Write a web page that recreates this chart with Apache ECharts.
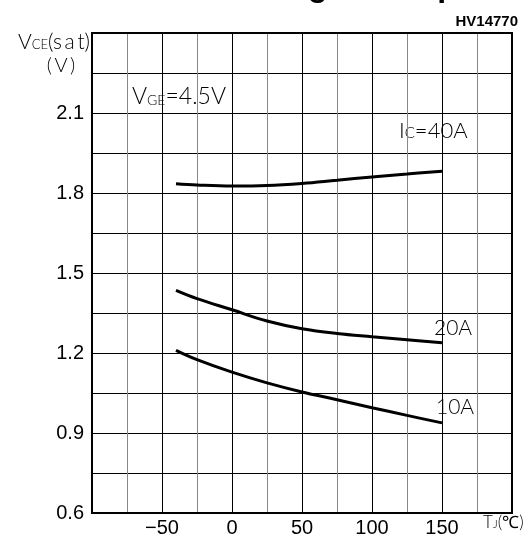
<!DOCTYPE html>
<html>
<head>
<meta charset="utf-8">
<script src="https://cdn.jsdelivr.net/npm/echarts@6/dist/echarts.min.js"></script>
<style>
html, body { margin: 0; padding: 0; background: #fff; }
#chart { width: 531px; height: 539px; }
</style>
</head>
<body>
<div id="chart"></div>
<script>
// junction temperature (°C)
const temps = [-40, -25, 0, 25, 50, 75, 100, 125, 150];
// VCE(sat) for each collector current
const ic40 = [1.835, 1.830, 1.826, 1.828, 1.836, 1.848, 1.860, 1.871, 1.882];
const ic20 = [1.435, 1.404, 1.362, 1.320, 1.291, 1.273, 1.261, 1.250, 1.238];
const ic10 = [1.210, 1.175, 1.128, 1.088, 1.054, 1.025, 0.995, 0.966, 0.938];

const xLabels = [-50, 0, 50, 100, 150];
const yLabels = [0.6, 0.9, 1.2, 1.5, 1.8, 2.1];

const chart = echarts.init(document.getElementById("chart"));

const FONT = "Liberation Sans";
const THIN = "Lato";

function pairs (ys) {
	return temps.map((t, i) => [t, ys[i]]);
}

function curve (name, ys) {
	return {
		name: name,
		type: "line",
		data: pairs(ys),
		smooth: 0.4,
		showSymbol: false,
		lineStyle: { color: "#000", width: 3 },
		z: 5
	};
}

function thin (size, sub) {
	const s = { fontFamily: THIN, fontWeight: 300, fontSize: size, fill: "#000" };
	if (sub) {
		s.verticalAlign = "bottom";
		s.padding = [0, 0, 1, 0];
	}
	return s;
}

option = {
	animation: false,
	backgroundColor: "#fff",
	grid: {
		left: 92,
		right: 19,
		top: 33,
		bottom: 26,
		show: true,
		borderColor: "#000",
		borderWidth: 2,
		z: 3
	},
	xAxis: {
		type: "value",
		min: -100,
		max: 200,
		interval: 25,
		axisLine: { show: false },
		axisTick: { show: false },
		axisLabel: {
			margin: 5,
			fontFamily: FONT,
			fontSize: 20,
			color: "#000",
			formatter: v => xLabels.includes(v) ? (v < 0 ? "\u2212" + (-v) : String(v)) : ""
		},
		splitLine: {
			lineStyle: { color: ["#000", "#888"], width: 1 }
		}
	},
	yAxis: {
		type: "value",
		min: 0.6,
		max: 2.4,
		interval: 0.15,
		axisLine: { show: false },
		axisTick: { show: false },
		axisLabel: {
			margin: 8,
			fontFamily: FONT,
			fontSize: 20,
			color: "#000",
			formatter: v => {
				const hit = yLabels.find(l => Math.abs(l - v) < 1e-6);
				return hit !== undefined ? hit.toFixed(1) : "";
			}
		},
		splitLine: {
			lineStyle: { color: "#000", width: 1 }
		}
	},
	series: [
		curve("40A", ic40),
		curve("20A", ic20),
		curve("10A", ic10)
	],
	graphic: [
		{
			type: "text", x: 65, y: -13,
			style: { text: "Saturation Voltage - Temperature", font: "bold 32px Liberation Sans", fill: "#000", verticalAlign: "middle" }
		},
		{
			type: "text", right: 13, top: 14,
			style: { text: "HV14770", font: "bold 15px Liberation Sans", fill: "#000" }
		},
		{
			type: "text", x: 90, y: 42,
			style: {
				text: "{b|V}{s|CE}{b|(s\u2009a\u2009t)}",
				align: "right",
				verticalAlign: "middle",
				rich: { b: thin(21), s: thin(13, true) }
			}
		},
		{
			type: "text", x: 61, y: 66,
			style: { text: "(\u2009V\u2009)", font: "300 20px Lato", fill: "#000", align: "center", verticalAlign: "middle" }
		},
		{
			type: "text", left: 132, top: 85,
			style: {
				text: "{b|V}{s|GE}{b|=4.5V}",
				rich: { b: thin(23), s: thin(14, true) }
			}
		},
		{
			type: "text", left: 399, top: 120,
			style: {
				text: "{b|I}{s|C}{b|=40A}",
				rich: { b: thin(22), s: thin(15, true) }
			}
		},
		{
			type: "text", left: 434, top: 318,
			style: { text: "20A", font: "300 21px Lato", fill: "#000" }
		},
		{
			type: "text", left: 436, top: 397,
			style: { text: "10A", font: "300 21px Lato", fill: "#000" }
		},
		{
			type: "text", x: 483, y: 523,
			style: {
				text: "{b|T}{s|J}{b|(\u2103)}",
				verticalAlign: "middle",
				rich: { b: thin(17), s: thin(12, true) }
			}
		}
	]
};

chart.setOption(option);
window.onresize = chart.resize;
</script>
</body>
</html>
